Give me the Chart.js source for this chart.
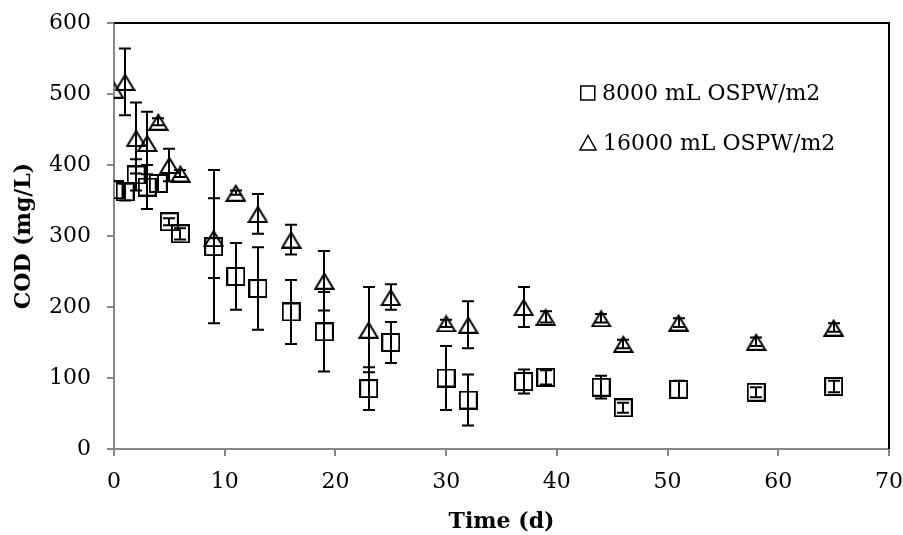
<!DOCTYPE html>
<html>
<head>
<meta charset="utf-8">
<script src="https://cdn.jsdelivr.net/npm/chart.js@4.4.0/dist/chart.umd.min.js"></script>
<style>
  html, body { margin: 0; padding: 0; background: #fff; }
</style>
</head>
<body>
<canvas id="codChart" width="903" height="535"></canvas>
<script>
// sampling days (shared by both loadings)
const days = [0, 1, 2, 3, 4, 5, 6, 9, 11, 13, 16, 19, 23, 25, 30, 32, 37, 39, 44, 46, 51, 58, 65];

// 8000 mL OSPW/m2
const cod8000 = [365, 362, 386, 369, 374, 320, 303, 285, 243, 226, 193, 165, 85, 150, 100, 69, 95, 101, 87, 58, 84, 80, 88];
const err8000 = [0, 12, 22, 31, 12, 5, 8, 108, 47, 58, 45, 56, 30, 29, 45, 36, 17, 10, 16, 7, 12, 7, 8];

// 16000 mL OSPW/m2
const cod16000 = [506, 517, 438, 431, 461, 400, 388, 297, 361, 331, 295, 237, 168, 214, 177, 175, 200, 186, 184, 148, 178, 151, 171];
const err16000 = [0, 47, 50, 44, 5, 23, 5, 56, 3, 28, 21, 42, 60, 18, 5, 33, 28, 8, 6, 6, 6, 6, 6];

const seriesNames = ['8000 mL OSPW/m2', '16000 mL OSPW/m2'];
const xTicks = [0, 10, 20, 30, 40, 50, 60, 70];
const yTicks = [0, 100, 200, 300, 400, 500, 600];

const AXIS_GREY = '#868686';
const TICK_FONT = { family: '"DejaVu Serif", serif', size: 22 };
const TITLE_FONT = { family: '"DejaVu Serif", serif', size: 22, weight: 'bold' };

function squareMarker(size, lw) {
  const c = document.createElement('canvas');
  c.width = size; c.height = size;
  const g = c.getContext('2d');
  g.strokeStyle = '#000';
  g.lineWidth = lw;
  g.strokeRect(lw / 2, lw / 2, size - lw, size - lw);
  return c;
}

function triangleMarker(w, h, lw) {
  const c = document.createElement('canvas');
  c.width = w; c.height = h;
  const g = c.getContext('2d');
  g.strokeStyle = '#000';
  g.lineWidth = lw;
  g.lineJoin = 'miter';
  g.beginPath();
  g.moveTo(w / 2, lw);
  g.lineTo(w - lw / 2 - 0.5, h - lw / 2);
  g.lineTo(lw / 2 + 0.5, h - lw / 2);
  g.closePath();
  g.stroke();
  return c;
}

const sqMark = squareMarker(19, 2);
const triMark = triangleMarker(21, 18, 2);

const toPoints = (ys) => days.map((d, i) => ({ x: d, y: ys[i] }));

// vertical error bars with caps, positioned through the scales
const errorBars = {
  id: 'errorBars',
  afterDatasetsDraw(chart) {
    const { ctx } = chart;
    const yScale = chart.scales.y;
    ctx.save();
    ctx.strokeStyle = '#000';
    ctx.lineWidth = 2;
    chart.data.datasets.forEach((ds, i) => {
      const meta = chart.getDatasetMeta(i);
      meta.data.forEach((pt, j) => {
        const e = ds.errors[j];
        if (!e) return;
        const v = ds.data[j].y;
        const yt = yScale.getPixelForValue(v + e);
        const yb = yScale.getPixelForValue(v - e);
        const x = Math.round(pt.x);
        ctx.beginPath();
        ctx.moveTo(x, yt); ctx.lineTo(x, yb);
        ctx.moveTo(x - 6, yt); ctx.lineTo(x + 6, yt);
        ctx.moveTo(x - 6, yb); ctx.lineTo(x + 6, yb);
        ctx.stroke();
      });
    });
    ctx.restore();
  }
};

// black frame on top and right of the plot area
const plotFrame = {
  id: 'plotFrame',
  afterDraw(chart) {
    const { ctx, chartArea: a } = chart;
    ctx.save();
    ctx.strokeStyle = '#000';
    ctx.lineWidth = 2;
    ctx.beginPath();
    ctx.moveTo(a.left, a.top);
    ctx.lineTo(a.right, a.top);
    ctx.lineTo(a.right, a.bottom);
    ctx.stroke();
    ctx.restore();
  }
};

// legend drawn inside the plot, like the original
const insideLegend = {
  id: 'insideLegend',
  afterDraw(chart) {
    const { ctx, chartArea: a } = chart;
    const x0 = a.left + 466;
    const rows = [a.top + 70, a.top + 120];
    ctx.save();
    ctx.strokeStyle = '#000';
    ctx.fillStyle = '#000';
    ctx.lineWidth = 1.5;
    ctx.strokeRect(x0 + 0.75, rows[0] - 7, 14, 14);
    ctx.beginPath();
    ctx.moveTo(x0 + 8, rows[1] - 7.5);
    ctx.lineTo(x0 + 16, rows[1] + 7);
    ctx.lineTo(x0 + 0, rows[1] + 7);
    ctx.closePath();
    ctx.stroke();
    ctx.font = '22px "DejaVu Serif", serif';
    ctx.textBaseline = 'middle';
    ctx.fillText(seriesNames[0], x0 + 22, rows[0] + 1);
    ctx.fillText(seriesNames[1], x0 + 23, rows[1] + 1);
    ctx.restore();
  }
};

new Chart(document.getElementById('codChart'), {
  type: 'scatter',
  data: {
    datasets: [
      {
        label: seriesNames[0],
        data: toPoints(cod8000),
        errors: err8000,
        pointStyle: sqMark,
        pointRadius: 10,
        borderColor: '#000',
        backgroundColor: 'transparent',
      },
      {
        label: seriesNames[1],
        data: toPoints(cod16000),
        errors: err16000,
        pointStyle: triMark,
        pointRadius: 10,
        borderColor: '#000',
        backgroundColor: 'transparent',
      },
    ],
  },
  options: {
    responsive: false,
    animation: false,
    devicePixelRatio: 1,
    layout: { autoPadding: false, padding: { top: 23, right: 14, left: 0, bottom: 0 } },
    plugins: {
      legend: { display: false },
      tooltip: { enabled: false },
    },
    elements: { point: { hoverRadius: 10 } },
    scales: {
      x: {
        type: 'linear',
        min: 0, max: 70,
        afterFit: (s) => { s.height = 86; s.paddingLeft = 0; s.paddingRight = 0; },
        afterBuildTicks: (s) => { s.ticks = xTicks.map(v => ({ value: v })); },
        grid: { drawOnChartArea: false, drawTicks: true, tickLength: 7, color: AXIS_GREY, lineWidth: 2 },
        border: { color: AXIS_GREY, width: 2 },
        ticks: { font: TICK_FONT, color: '#000', padding: 13, maxRotation: 0 },
        title: { display: true, text: 'Time (d)', font: TITLE_FONT, color: '#000', padding: { top: 0, bottom: 0 } },
      },
      y: {
        type: 'linear',
        min: 0, max: 600,
        afterFit: (s) => { s.width = 114; s.paddingTop = 0; s.paddingBottom = 0; },
        afterBuildTicks: (s) => { s.ticks = yTicks.map(v => ({ value: v })); },
        grid: { drawOnChartArea: false, drawTicks: true, tickLength: 7, color: AXIS_GREY, lineWidth: 2 },
        border: { color: AXIS_GREY, width: 2 },
        ticks: { font: TICK_FONT, color: '#000', padding: 16 },
        title: { display: true, text: 'COD (mg/L)', font: TITLE_FONT, color: '#000', padding: { top: 11, bottom: 0 } },
      },
    },
  },
  plugins: [errorBars, plotFrame, insideLegend],
});
</script>
</body>
</html>
